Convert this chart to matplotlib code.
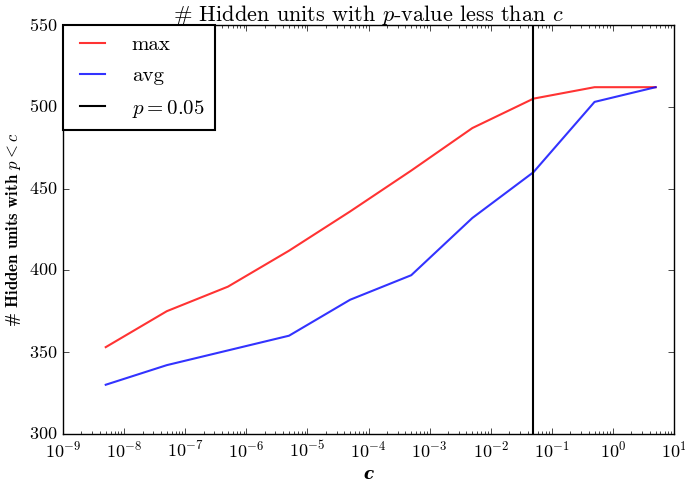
import numpy as np
import matplotlib
matplotlib.use('Agg')
import matplotlib.pyplot as plt

# p-value thresholds and hidden unit counts
c_vals = [5e-9, 5e-8, 5e-7, 5e-6, 5e-5, 5e-4, 5e-3, 5e-2, 5e-1, 5e0]
max_units = [353, 375, 390, 412, 436, 461, 487, 505, 512, 512]
avg_units = [330, 342, 351, 360, 382, 397, 432, 460, 503, 512]
p_thresh = 0.05

plt.style.use('classic')
plt.rcParams['font.family'] = 'serif'
plt.rcParams['font.serif'] = ['cmr10', 'DejaVu Serif']
plt.rcParams['mathtext.fontset'] = 'cm'
plt.rcParams['axes.formatter.use_mathtext'] = True

fig = plt.figure(figsize=(6.85, 4.82), dpi=100)
ax = fig.add_axes([0.092, 0.100, 0.892, 0.848])

ax.plot(c_vals, max_units, color='r', lw=1.5, alpha=0.8, label='max')
ax.plot(c_vals, avg_units, color='b', lw=1.5, alpha=0.8, label='avg')
ax.axvline(p_thresh, color='k', lw=1.5, label='$p = 0.05$')

ax.set_xscale('log')
ax.set_xlim(1e-9, 1e1)
ax.set_ylim(300, 550)
ax.set_yticks([300, 350, 400, 450, 500, 550])

ax.set_title('# Hidden units with $p$-value less than $c$', fontsize=16, pad=3)
ax.set_ylabel('# Hidden units with $p < c$', fontsize=12, family='cmb10', labelpad=4)
ax.set_xlabel('c', fontsize=12, fontweight='bold', style='italic',
              family='DejaVu Serif', labelpad=4)

ax.tick_params(labelsize=13)
leg = ax.legend(loc='upper left', fontsize=15, borderaxespad=0,
                handlelength=1.8, labelspacing=0.6, borderpad=0.5,
                handletextpad=1.0)
leg.get_frame().set_linewidth(1.5)

fig.savefig('out.png', dpi=100)
